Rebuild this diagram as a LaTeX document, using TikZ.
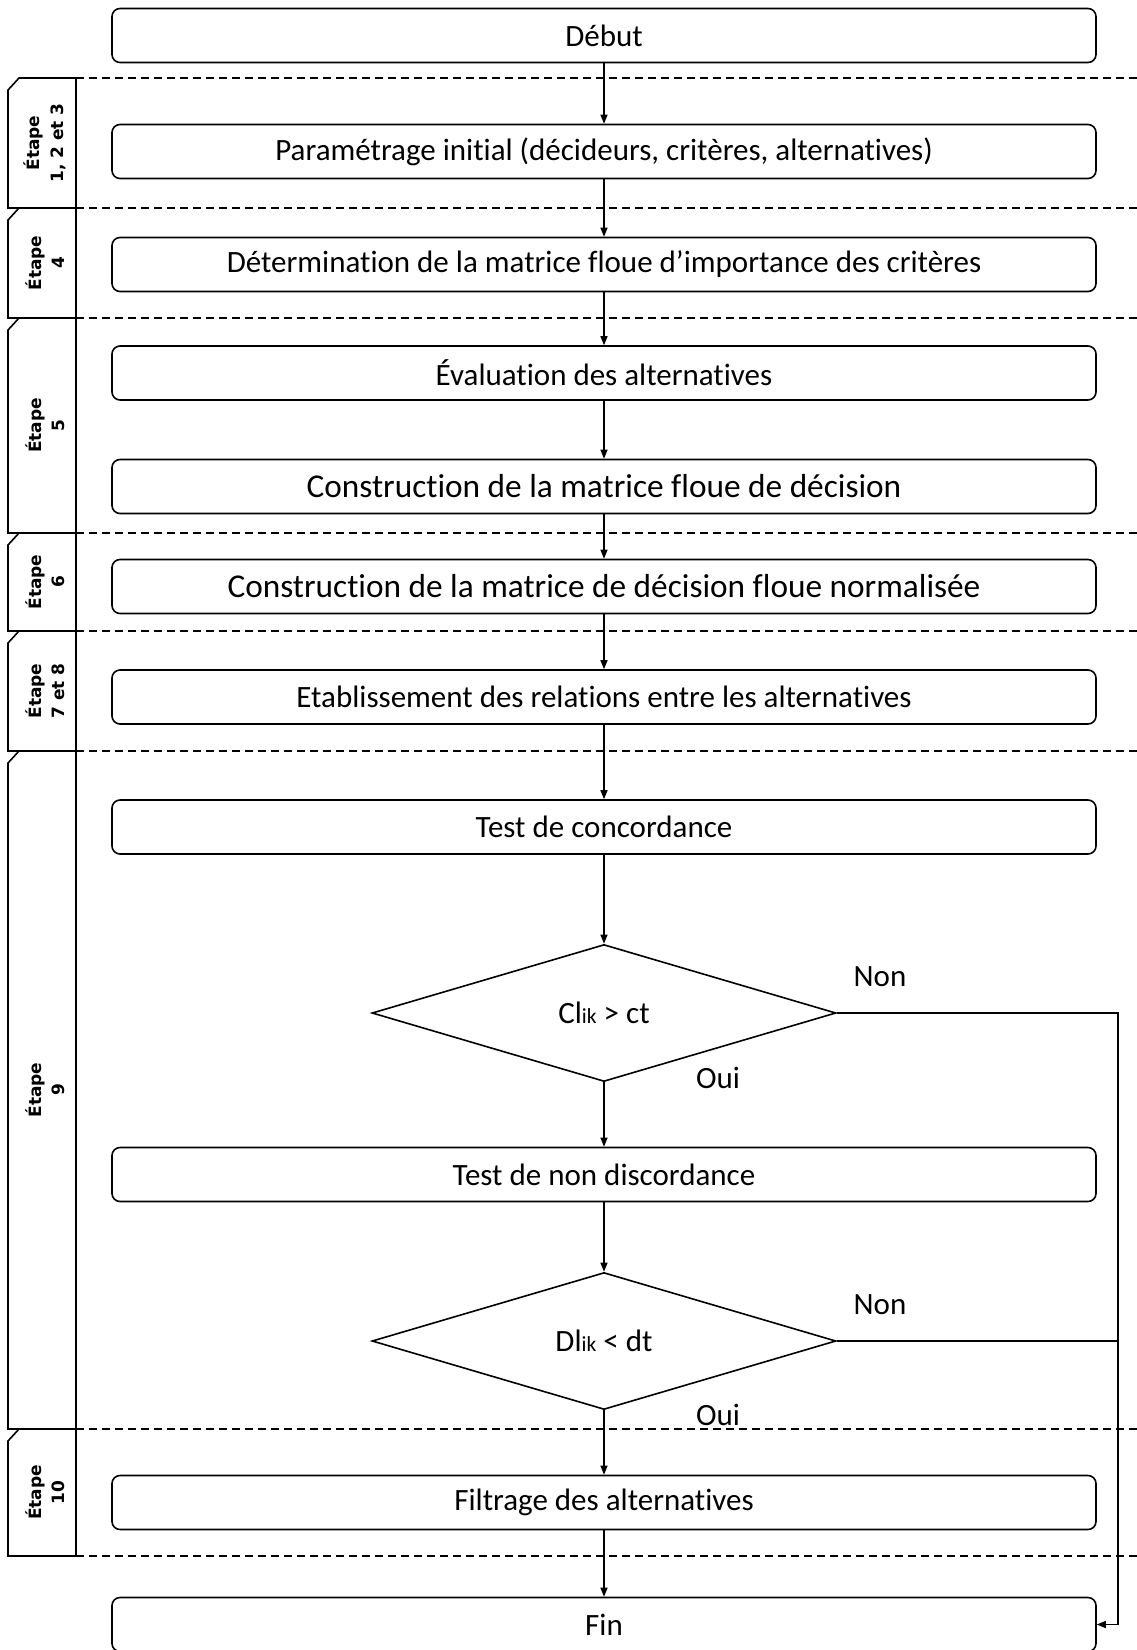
\documentclass[tikz,border=0pt]{standalone}
\usepackage{fontspec}
\setmainfont{Carlito}[Ligatures=NoCommon]
\newfontfamily\etapefont{DejaVu Sans}
\usetikzlibrary{positioning, shapes.geometric, arrows.meta, calc}

\begin{document}
\begin{tikzpicture}[x=1pt, y=-1pt,
		box/.style={rectangle, draw, rounded corners=8pt, line width=1.6pt, minimum width=984pt, minimum height=54pt, inner sep=0pt, font={\fontsize{31}{36}\selectfont}},
		big/.style={font={\fontsize{33.3}{40}\selectfont}},
		test/.style={diamond, draw, line width=1.6pt, minimum width=464pt, minimum height=137pt, inner sep=0pt, font={\fontsize{31}{36}\selectfont}},
		lbl/.style={inner sep=0pt, font={\fontsize{31}{36}\selectfont}},
		sep/.style={line width=1.3pt, dash pattern=on 8pt off 5pt},
		tab/.style={line width=1.6pt},
		tablabel/.style={rotate=90, align=center, inner sep=0pt, font={\etapefont\bfseries\fontsize{17}{23.5}\selectfont}},
		conn/.style={line width=1.3pt},
		>={Triangle[length=9pt, width=7pt]}
	]

	\path[use as bounding box] (0,0) rectangle (1137,1650);
	\clip (0,0) rectangle (1137,1650);

	% bandes des etapes
	\foreach \t/\b/\txt [count=\i] in {78/208/{1, 2 et 3}, 208/318/4, 318/533/5, 533/631/6, 631/751/{7 et 8}, 751/1429/9, 1429/1556/10} {
		\draw[tab] (8,\t+12) -- (19,\t) -- (76,\t) -- (76,\b) -- (8,\b) -- cycle;
		\node[tablabel] (etape\i) at (45,{(\t+\b)/2}) {Étape\\\txt};
	}

	\foreach \y in {78, 208, 318, 533, 631, 751, 1429, 1556}
		\draw[sep] (76,\y) -- (1137,\y);

	\node[box] (debut) at (604,35.5) {Début};
	\node[box] (param) at (604,151.5) {Paramétrage initial (décideurs, critères, alternatives)};
	\node[box] (determ) at (604,264.5) {Détermination de la matrice floue d’importance des critères};
	\node[box] (eval) at (604,373) {Évaluation des alternatives};
	\node[box, big] (constr) at (604,486.5) {Construction de la matrice floue de décision};
	\node[box, big] (norm) at (604,586.5) {Construction de la matrice de décision floue normalisée};
	\node[box] (etabl) at (604,697) {Etablissement des relations entre les alternatives};
	\node[box] (concord) at (604,827) {Test de concordance};
	\node[test] (test1) at (604,1013) {Cl{\fontsize{21.5}{24}\selectfont ik} > ct};
	\node[box] (nondisc) at (604,1174.5) {Test de non discordance};
	\node[test] (test2) at (604,1341) {Dl{\fontsize{21.5}{24}\selectfont ik} < dt};
	\node[box] (filtr) at (604,1502.5) {Filtrage des alternatives};
	\node[box] (fin) at (604,1624.5) {Fin};

	\node[lbl] (non1) at (880,977) {Non};
	\node[lbl] (oui1) at (718,1078) {Oui};
	\node[lbl] (non2) at (880,1305) {Non};
	\node[lbl] (oui2) at (718,1415) {Oui};

	\coordinate (rail) at (1118,1013);

	\foreach \i/\j in {debut/param, param/determ, determ/eval, eval/constr, constr/norm, norm/etabl, etabl/concord, concord/test1, test1/nondisc, nondisc/test2, test2/filtr, filtr/fin}
		\draw[conn, ->] (\i) -- (\j);

	\draw[conn, ->] (test1.east) -- (rail) |- (fin.east);
	\draw[conn] (test2.east) -- (test2.east -| rail);

\end{tikzpicture}
\end{document}
